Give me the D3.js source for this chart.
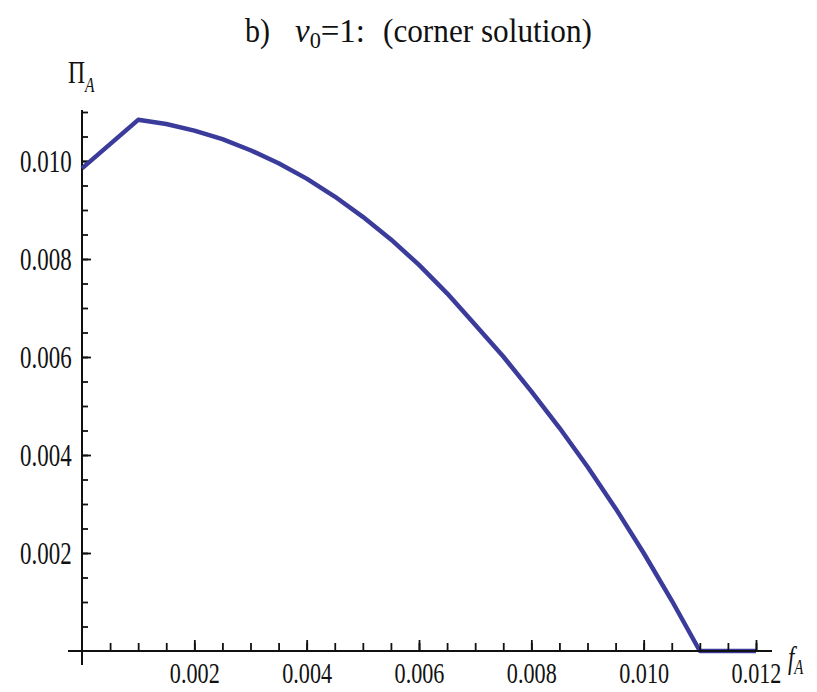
<!DOCTYPE html>
<html>
<head>
<meta charset="utf-8">
<script src="https://cdn.jsdelivr.net/npm/d3@7"></script>
<style>
  body { margin: 0; background: #fff; }
  text { font-family: "Liberation Serif", "DejaVu Serif", serif; fill: #111; }
</style>
</head>
<body>
<div id="chart"></div>
<script>
// values
var fA  = [0, 0.001, 0.0015, 0.002, 0.0025, 0.003, 0.0035, 0.004, 0.0045, 0.005,
           0.0055, 0.006, 0.0065, 0.007, 0.0075, 0.008, 0.0085, 0.009, 0.0095,
           0.010, 0.0105, 0.011, 0.012];
var piA = [0.00985, 0.01084, 0.010755, 0.01062, 0.010445, 0.01022, 0.009955, 0.00964,
           0.009275, 0.00886, 0.00840, 0.00788, 0.00730, 0.00666, 0.00601, 0.00530,
           0.004555, 0.00376, 0.00291, 0.00200, 0.00103, 0, 0];

var xMajor = [0.002, 0.004, 0.006, 0.008, 0.010, 0.012];
var yMajor = [0.002, 0.004, 0.006, 0.008, 0.010];
var xMinor = d3.range(0.0005, 0.01201, 0.0005);
var yMinor = d3.range(0.0005, 0.01101, 0.0005);

var chart_width  = 817;
var chart_height = 692;
var serif   = '"Liberation Serif", "DejaVu Serif", serif';
var squeeze = 'scale(0.74,1)';   // the picture's letters are tall and narrow

var svg = d3.select('#chart')
    .append('svg')
    .attr('width', chart_width)
    .attr('height', chart_height);

var x_scale = d3.scaleLinear().domain([0, 0.012]).range([82, 756]);
var y_scale = d3.scaleLinear().domain([0, 0.011]).range([651, 112]);

var x0 = x_scale(0), y0 = y_scale(0);

// y axis: line, minor + major ticks (inward), labels
var gy = svg.append('g').attr('transform', 'translate(' + x0 + ',0)');
gy.append('line')
    .attr('y1', 110).attr('y2', 665)
    .attr('stroke', '#111').attr('stroke-width', 2);
gy.call(d3.axisLeft(y_scale).tickValues(yMinor).tickSize(-6).tickFormat(''))
  .call(function(g){ g.select('.domain').remove(); });
var gyMaj = svg.append('g').attr('transform', 'translate(' + x0 + ',0)')
    .call(d3.axisLeft(y_scale).tickValues(yMajor).tickSize(-9).tickPadding(0)
          .tickFormat(d3.format('.3f')));
gyMaj.select('.domain').remove();
svg.selectAll('.tick line').attr('stroke', '#111').attr('stroke-width', 1.8);
gyMaj.selectAll('text')
    .attr('x', -14).attr('dy', '0.35em')
    .attr('transform', squeeze)
    .style('font-family', serif)
    .style('font-size', '31px')
    .attr('fill', '#222');

// the curve
var line = d3.line()
    .x(function(d, i){ return x_scale(fA[i]); })
    .y(function(d){ return y_scale(d); });

svg.append('path')
    .datum(piA)
    .attr('d', line)
    .attr('fill', 'none')
    .attr('stroke', '#3b3b9b')
    .attr('stroke-width', 4.5)
    .attr('stroke-linejoin', 'round');

// x axis on top
var gx = svg.append('g').attr('transform', 'translate(0,' + y0 + ')');
gx.append('line')
    .attr('x1', 68).attr('x2', 772)
    .attr('stroke', '#111').attr('stroke-width', 2);
var gxMin = svg.append('g').attr('transform', 'translate(0,' + y0 + ')')
    .call(d3.axisBottom(x_scale).tickValues(xMinor).tickSize(-8).tickFormat(''));
gxMin.select('.domain').remove();
var gxMaj = svg.append('g').attr('transform', 'translate(0,' + y0 + ')')
    .call(d3.axisBottom(x_scale).tickValues(xMajor).tickSize(-11)
          .tickFormat(d3.format('.3f')));
gxMaj.select('.domain').remove();
gxMin.selectAll('.tick line').attr('stroke', '#111').attr('stroke-width', 1.8);
gxMaj.selectAll('.tick line').attr('stroke', '#111').attr('stroke-width', 1.8);
gxMaj.selectAll('text')
    .attr('y', 32).attr('dy', 0)
    .attr('transform', squeeze)
    .style('font-family', serif)
    .style('font-size', '30px')
    .attr('fill', '#222');

// axis labels
var yl = svg.append('text').attr('x', 68 / 0.74).attr('y', 83)
    .attr('transform', squeeze).style('font-family', serif).style('font-size', '32px');
yl.append('tspan').text('\u03A0');
yl.append('tspan').text('A').attr('font-style', 'italic')
    .attr('dy', 9).style('font-size', '21px');

var xl = svg.append('text').attr('x', 788 / 0.74).attr('y', 668)
    .attr('transform', squeeze).style('font-family', serif).style('font-size', '31px');
xl.append('tspan').text('f').attr('font-style', 'italic');
xl.append('tspan').text('A').attr('font-style', 'italic')
    .attr('dy', 6).style('font-size', '20px');

// title
svg.append('text').attr('x', 245).attr('y', 42)
    .attr('textLength', 25).attr('lengthAdjust', 'spacingAndGlyphs')
    .style('font-family', serif).style('font-size', '34px').text('b)');
var tv = svg.append('text').attr('x', 295).attr('y', 42)
    .attr('textLength', 70).attr('lengthAdjust', 'spacingAndGlyphs')
    .style('font-family', serif).style('font-size', '34px');
tv.append('tspan').text('v').attr('font-style', 'italic');
tv.append('tspan').text('0').attr('dy', 6).style('font-size', '23px');
tv.append('tspan').text('=1:').attr('dy', -6);
svg.append('text').attr('x', 383).attr('y', 42)
    .attr('textLength', 209).attr('lengthAdjust', 'spacingAndGlyphs')
    .style('font-family', serif).style('font-size', '34px').text('(corner solution)');
</script>
</body>
</html>
